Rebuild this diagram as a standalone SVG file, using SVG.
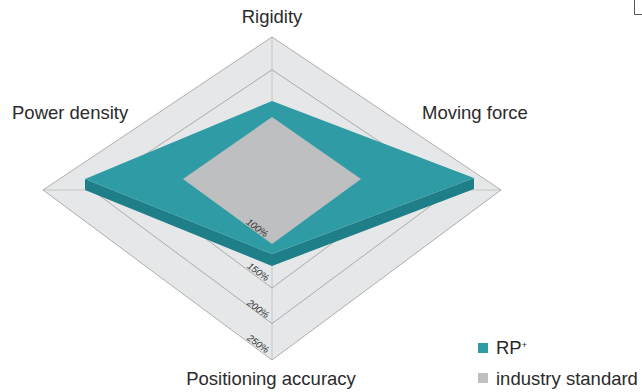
<svg xmlns="http://www.w3.org/2000/svg" width="642" height="392" viewBox="0 0 642 392">
<style>
.lbl{font-family:"Liberation Sans",Arial,sans-serif;font-size:18.5px;fill:#2b2b2b}
.pct{font-family:"Liberation Sans",Arial,sans-serif;font-size:9.5px;font-style:italic;fill:#333;text-anchor:middle}
.ring{fill:none;stroke:#9c9c9c;stroke-width:0.8}
.axis{fill:none;stroke:#c6c6c6;stroke-width:1}
</style>
<rect width="642" height="392" fill="#ffffff"/>
<g id="grid">
<polygon points="43,190 272,37 501,190 272,360" fill="#e6e7e8"/>
<line class="axis" x1="272" y1="37" x2="272" y2="360"/>
<line class="axis" x1="43" y1="190" x2="501" y2="190"/>
<polygon class="ring" points="43,190 272,37 501,190 272,360"/>
<polygon class="ring" points="92,190 272,69.8 452,190 272,323.6"/>
<polygon class="ring" points="140,190 272,101.8 404,190 272,288"/>
<polygon class="ring" points="188,190 272,133.9 356,190 272,252.3"/>
</g>
<g id="rp">
<polygon points="85,179 272,254 474,178 474,189 272,266 85,190" fill="#1f7f89"/>
<polygon points="85,179 272,101 474,178 272,254" fill="#2f9ba5"/>
</g>
<g id="industry">
<polygon points="183,179 272,117 361,179 272,244" fill="#bebfc1"/>
</g>
<g id="scale">
<text class="pct" transform="translate(257,228) rotate(36.6)" y="3">100%</text>
<text class="pct" transform="translate(258,272) rotate(36.6)" y="3">150%</text>
<text class="pct" transform="translate(258,309) rotate(36.6)" y="3">200%</text>
<text class="pct" transform="translate(258,344) rotate(36.6)" y="3">250%</text>
</g>
<g id="axis-labels">
<text class="lbl" x="272" y="23" text-anchor="middle">Rigidity</text>
<text class="lbl" x="12" y="119">Power density</text>
<text class="lbl" x="422" y="119">Moving force</text>
<text class="lbl" x="271" y="385" text-anchor="middle">Positioning accuracy</text>
</g>
<g id="legend">
<rect x="478" y="343" width="10" height="10" fill="#2f9ba5"/>
<text class="lbl" x="496" y="354">RP<tspan font-size="9" dy="-6">+</tspan></text>
<rect x="478" y="373" width="10" height="10" fill="#bebfc1"/>
<text class="lbl" x="496" y="385">industry standard</text>
</g>
<path d="M634.5,0 V14.5 H642" fill="none" stroke="#555" stroke-width="1"/>
</svg>
